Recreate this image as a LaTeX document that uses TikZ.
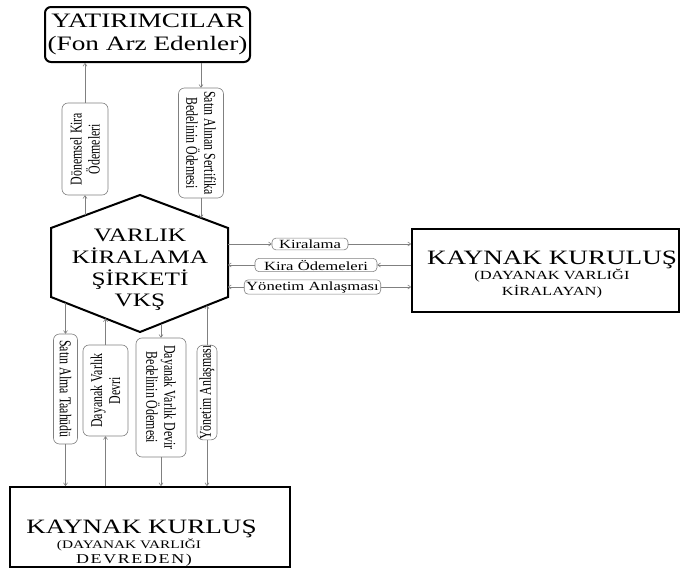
\documentclass[tikz,border=0pt]{standalone}
\usepackage{fontspec}
\setmainfont{Liberation Serif}
\newfontfamily\widefont{Liberation Serif}[FakeStretch=1.33]
\newfontfamily\spacedfont{Liberation Serif}[FakeStretch=1.33, LetterSpace=12]
\newfontfamily\slimfont{Liberation Serif}[FakeStretch=0.72]
\usetikzlibrary{arrows.meta}
\tikzset{
  bigbox/.style={draw, line width=2pt, inner sep=0pt},
  tag/.style={draw=gray, line width=.6pt, rounded corners=4pt, inner xsep=2pt, inner ysep=1.5pt, font=\widefont\fontsize{12.5}{14}\selectfont},
  vtag/.style={draw=gray, line width=.6pt, rounded corners=6pt, inner sep=0pt, align=center, font=\slimfont\fontsize{16.5}{18}\selectfont},
  flow/.style={gray, line width=.6pt, -{To[length=3.5pt,width=4.5pt]}},
}
\begin{document}
\begin{tikzpicture}[x=1pt,y=-1pt]
\useasboundingbox (0,0) rectangle (681,570);
\node[bigbox, rounded corners=6pt, minimum width=205pt, minimum height=55pt, align=center, font=\widefont\fontsize{20.5}{23}\selectfont] (inv) at (147.5,34.5) {YATIRIMCILAR\\(Fon Arz Edenler)};
\coordinate (h1) at (140,195);
\coordinate (h2) at (228,228);
\coordinate (h3) at (228,297);
\coordinate (h4) at (140,332);
\coordinate (h5) at (51,297);
\coordinate (h6) at (51,228);
\draw[line width=2pt] (h1) -- (h2) -- (h3) -- (h4) -- (h5) -- (h6) -- cycle;
\node[align=center, font=\widefont\fontsize{19}{21.7}\selectfont] (vks) at (140,270) {VARLIK\\KİRALAMA\\ŞİRKETİ\\VKŞ};
\coordinate (hA) at (85,215.4);
\coordinate (hB) at (201,217.9);
\coordinate (hC) at (65.5,302.7);
\coordinate (hD) at (105.5,318.4);
\coordinate (hE) at (161,323.6);
\coordinate (hF) at (207,305.4);
\node[bigbox, minimum width=267pt, minimum height=83pt] (rbox) at (545.5,270.5) {};
\node[anchor=base, align=center, font=\widefont\fontsize{12.4}{15.5}\selectfont] (rtext) at (552,295) {{\fontsize{20.4}{15.5}\selectfont KAYNAK KURULUŞ}\\(DAYANAK VARLIĞI\\KİRALAYAN)};
\node[bigbox, minimum width=280pt, minimum height=80pt] (bbox) at (150,527) {};
\node[anchor=base, align=center, font=\widefont\fontsize{11.5}{15}\selectfont] (btext) at (141.5,563) {{\fontsize{20.4}{15}\selectfont KAYNAK KURLUŞ}\\\hbox{(DAYANAK VARLIĞI\kern25pt}\\\hbox{\spacedfont\fontsize{13.5}{15}\selectfont DEVREDEN)\kern15pt}};
\node[vtag, rotate=90, minimum width=92pt, minimum height=46pt] (lblA) at (85,149) {Dönemsel Kira\\Ödemeleri};
\node[vtag, rotate=-90, minimum width=110pt, minimum height=45pt] (lblB) at (201,143) {Satın Alınan Sertifika\\Bedelinin Ödemesi};
\node[vtag, rotate=-90, minimum width=110pt, minimum height=24pt] (lblC) at (65.5,389) {Satın Alma Taahüdü};
\node[vtag, rotate=90, minimum width=91pt, minimum height=45pt] (lblD) at (105.5,390.5) {Dayanak Varlık\\Devri};
\node[vtag, rotate=-90, minimum width=119pt, minimum height=50pt] (lblE) at (161,397.5) {Dayanak Varlık Devir\\Bedelinin Ödemesi};
\node[vtag, rotate=90, minimum width=91pt, minimum height=20pt] (lblF) at (207,392.5) {Yönetim Anlaşması};
\node[tag, minimum width=76pt] (lblK) at (310,244) {Kiralama};
\node[tag, minimum width=122pt] (lblO) at (316,265) {Kira Ödemeleri};
\node[tag, minimum width=131pt] (lblY) at (312.5,287) {Yönetim Anlaşması};
\draw[flow] (hA) -- (lblA.west);
\draw[flow] (lblA.east) -- (lblA.east |- inv.south);
\draw[flow] (inv.south -| lblB.west) -- (lblB.west);
\draw[flow] (lblB.east) -- (hB);
\draw[flow] (hC) -- (lblC.west);
\draw[flow] (lblC.east) -- (lblC.east |- bbox.north);
\draw[flow] (lblD.east) -- (hD);
\draw[flow] (bbox.north -| lblD.west) -- (lblD.west);
\draw[flow] (hE) -- (lblE.west);
\draw[flow] (lblE.east) -- (lblE.east |- bbox.north);
\draw[flow] (lblF.east) -- (hF);
\draw[flow] (lblF.west) -- (lblF.west |- bbox.north);
\draw[flow] (lblK.west -| h2) -- (lblK.west);
\draw[flow] (lblK.east) -- (lblK.east -| rbox.west);
\draw[flow] (lblO.east -| rbox.west) -- (lblO.east);
\draw[flow] (lblO.west) -- (lblO.west -| h2);
\draw[flow] (lblY.west) -- (lblY.west -| h2);
\draw[flow] (lblY.east) -- (lblY.east -| rbox.west);
\end{tikzpicture}
\end{document}
